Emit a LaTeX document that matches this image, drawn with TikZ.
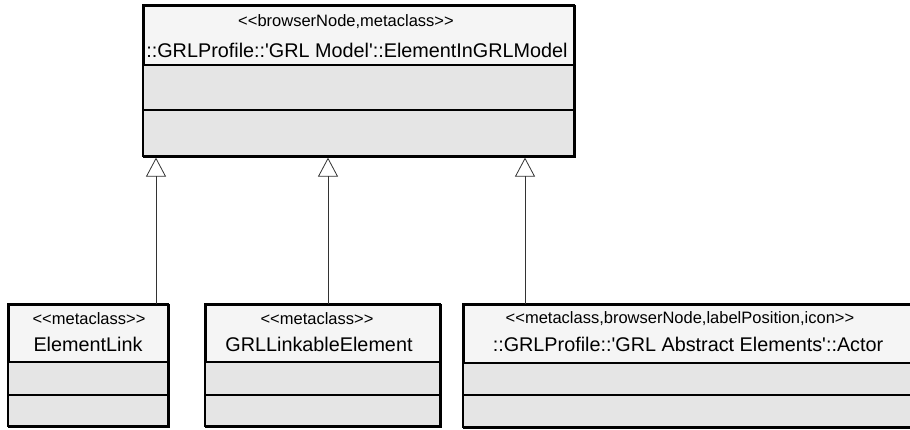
\documentclass[tikz,border=0pt]{standalone}
\usepackage{fontspec}
\newfontfamily\umlfont{Liberation Sans}
\usetikzlibrary{arrows.meta,calc}
\begin{document}
\begin{tikzpicture}[x=1pt,y=-1pt,
  box/.style={draw=black,line width=1.6pt,fill=black!4,inner sep=0pt,anchor=north west},
  stereo/.style={font=\umlfont\fontsize{16.5}{18}\selectfont,inner sep=0pt},
  cname/.style={font=\umlfont\fontsize{19.8}{22}\selectfont,inner sep=0pt},
  gen/.style={draw=black!80,line width=0.8pt,-{Triangle[open,length=19pt,width=20pt,line width=0.8pt]}}]
\useasboundingbox (0,0) rectangle (910,429);
\clip (0,0) rectangle (910,429);
% top class
\node[box,minimum width=431pt,minimum height=151pt] (top) at (143,5) {};
\fill[black!10] (143,65) rectangle (574,156);
\draw[line width=1.3pt] (143,65) -- (574,65) (143,110) -- (574,110);
\draw[line width=1.6pt] (143,5) rectangle (574,156);
\node[stereo] (tops) at (346,22) {<<browserNode,metaclass>>};
\node[cname] (topn) at (357,50) {::GRLProfile::'GRL Model'::ElementInGRLModel};
% box 1
\node[box,minimum width=160pt,minimum height=122pt] (b1) at (8,304) {};
\fill[black!10] (8,362) rectangle (168,426);
\draw[line width=1.3pt] (8,362) -- (168,362) (8,395) -- (168,395);
\draw[line width=1.6pt] (8,304) rectangle (168,426);
\node[stereo] (b1s) at (89,319) {<<metaclass>>};
\node[cname] (b1n) at (88,344) {ElementLink};
% box 2
\node[box,minimum width=235pt,minimum height=122pt] (b2) at (205,304) {};
\fill[black!10] (205,362) rectangle (440,426);
\draw[line width=1.3pt] (205,362) -- (440,362) (205,395) -- (440,395);
\draw[line width=1.6pt] (205,304) rectangle (440,426);
\node[stereo] (b2s) at (317,319) {<<metaclass>>};
\node[cname] (b2n) at (319,344) {GRLLinkableElement};
% box 3
\node[box,minimum width=452pt,minimum height=123pt] (b3) at (463,304) {};
\fill[black!10] (463,363) rectangle (915,427);
\draw[line width=1.3pt] (463,363) -- (915,363) (463,395) -- (915,395);
\draw[line width=1.6pt] (463,304) rectangle (915,427);
\node[stereo] (b3s) at (680,319) {<<metaclass,browserNode,labelPosition,icon>>};
\node[cname] (b3n) at (688,344) {::GRLProfile::'GRL Abstract Elements'::Actor};
% generalizations
\coordinate (x1) at (156,0);
\coordinate (x2) at (328,0);
\coordinate (x3) at (525,0);
\draw[gen] (b1.north -| x1) -- (top.south -| x1);
\draw[gen] (b2.north -| x2) -- (top.south -| x2);
\draw[gen] (b3.north -| x3) -- (top.south -| x3);
\end{tikzpicture}
\end{document}
